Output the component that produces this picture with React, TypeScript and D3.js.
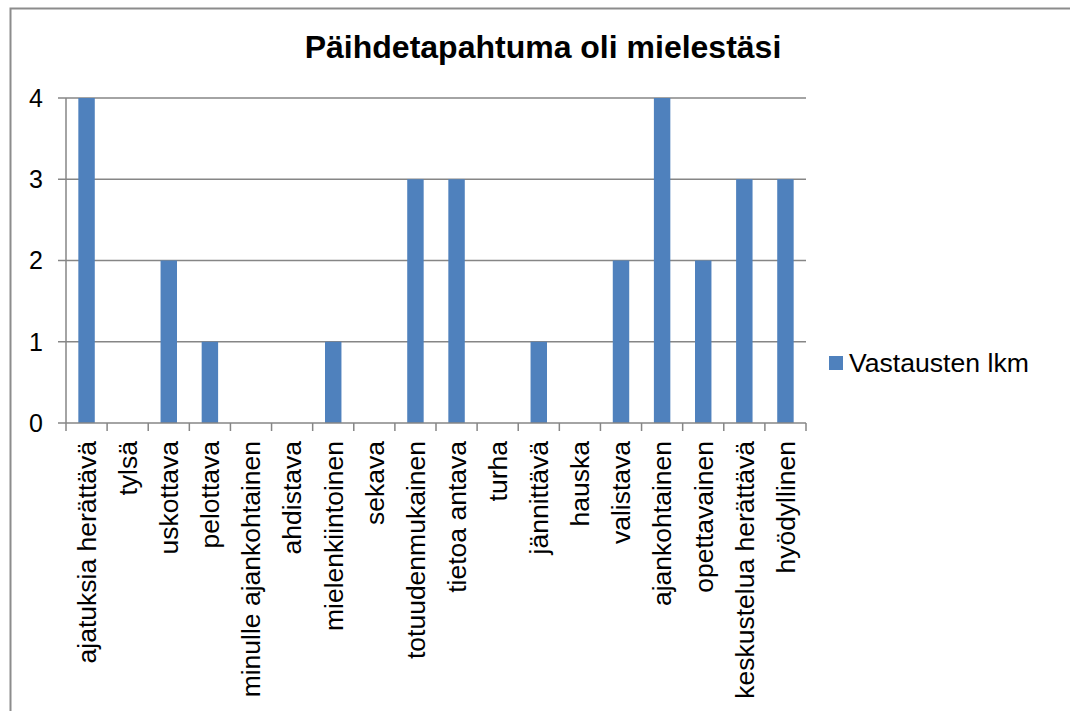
import * as d3 from "d3"

const categories = [
  "ajatuksia herättävä",
  "tylsä",
  "uskottava",
  "pelottava",
  "minulle ajankohtainen",
  "ahdistava",
  "mielenkiintoinen",
  "sekava",
  "totuudenmukainen",
  "tietoa antava",
  "turha",
  "jännittävä",
  "hauska",
  "valistava",
  "ajankohtainen",
  "opettavainen",
  "keskustelua herättävä",
  "hyödyllinen",
]
const counts = [4, 0, 2, 1, 0, 0, 1, 0, 3, 3, 0, 1, 0, 2, 4, 2, 3, 3]
const yTicks = [0, 1, 2, 3, 4]
const title = "Päihdetapahtuma oli mielestäsi"
const seriesName = "Vastausten lkm"

const width = 1070
const height = 711
const left = 66
const right = 806
const top = 98
const bottom = 423
const font = "Arial, 'Liberation Sans', sans-serif"
const gray = "#868686"
const barColor = "#4F81BD"

export default function App() {
  const x = d3.scaleBand<string>().domain(categories).range([left, right])
  const y = d3.scaleLinear().domain([0, 4]).range([bottom, top])
  const barW = x.bandwidth() * 0.4
  const boundaries = d3.range(categories.length + 1).map((i) => left + i * x.step())

  return (
    <svg
      width={width}
      height={height}
      style={{ position: "absolute", left: 0, top: 0, background: "#fff" }}
      fontFamily={font}
    >
      <rect x={0} y={0} width={width} height={height} fill="#fff" />
      {/* outer chart frame, runs off the right and bottom edge */}
      <rect x={10.5} y={8.5} width={1200} height={900} fill="none" stroke="#8c8c8c" strokeWidth={2} />

      <text x={543} y={58} textAnchor="middle" fontSize={32} fontWeight="bold" fill="#000">
        {title}
      </text>

      {/* grid lines */}
      {yTicks.filter((t) => t > 0).map((t) => (
        <line key={t} x1={left} x2={right} y1={y(t)} y2={y(t)} stroke={gray} strokeWidth={1.5} />
      ))}

      {/* bars */}
      {counts.map((v, i) => (
        <rect
          key={i}
          x={x(categories[i])! + (x.bandwidth() - barW) / 2}
          y={y(v)}
          width={barW}
          height={y(0) - y(v)}
          fill={barColor}
        />
      ))}

      {/* y axis */}
      <line x1={left} x2={left} y1={top} y2={bottom} stroke={gray} strokeWidth={1.5} />
      {yTicks.map((t) => (
        <g key={t}>
          <line x1={left - 8} x2={left} y1={y(t)} y2={y(t)} stroke={gray} strokeWidth={1.5} />
          <text x={43} y={y(t)} dy="0.35em" textAnchor="end" fontSize={25} fill="#000">
            {t}
          </text>
        </g>
      ))}

      {/* x axis */}
      <line x1={left} x2={right} y1={bottom} y2={bottom} stroke={gray} strokeWidth={1.5} />
      {boundaries.map((bx, i) => (
        <line key={i} x1={bx} x2={bx} y1={bottom} y2={bottom + 8} stroke={gray} strokeWidth={1.5} />
      ))}
      {categories.map((c) => {
        const cx = x(c)! + x.bandwidth() / 2
        return (
          <text
            key={c}
            transform={`translate(${cx},441) rotate(-90)`}
            dy="0.35em"
            textAnchor="end"
            fontSize={26.5}
            fill="#000"
          >
            {c}
          </text>
        )
      })}

      {/* legend */}
      <rect x={829} y={356} width={14} height={14} fill={barColor} />
      <text x={849} y={372} fontSize={26.6} fill="#000">
        {seriesName}
      </text>
    </svg>
  )
}
